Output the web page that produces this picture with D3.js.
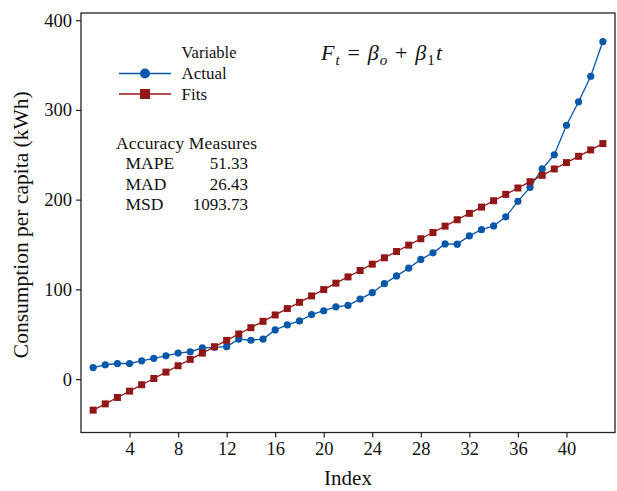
<!DOCTYPE html>
<html><head><meta charset="utf-8">
<script src="https://cdn.jsdelivr.net/npm/d3@7/dist/d3.min.js"></script>
<style>
body{margin:0;background:#fff}
text{font-family:"Liberation Serif","Times New Roman",serif;fill:#111}
</style>
</head><body>
<svg id="c" width="617" height="491"></svg>
<script>
const indexes = [1,2,3,4,5,6,7,8,9,10,11,12,13,14,15,16,17,18,19,20,21,22,23,24,25,26,27,28,29,30,31,32,33,34,35,36,37,38,39,40,41,42,43];
const actual = [12.9,16.0,17.4,17.4,20.4,23.2,26.0,29.0,30.5,34.8,35.4,36.2,44.6,43.3,44.6,54.8,60.4,64.8,71.9,76.2,80.6,82.1,89.2,96.3,106.3,115.0,123.6,133.4,140.7,150.6,150.4,159.6,166.5,170.7,180.8,198.1,213.7,234.2,250.0,282.9,309.0,337.5,376.2];
const fits = [-34.6,-27.6,-20.5,-13.4,-6.3,0.7,7.8,14.9,22.0,29.0,36.1,43.2,50.3,57.3,64.4,71.5,78.6,85.6,92.7,99.8,106.9,113.9,121.0,128.1,135.2,142.2,149.3,156.4,163.4,170.5,177.6,184.7,191.7,198.8,205.9,213.0,220.0,227.1,234.2,241.3,248.3,255.4,262.5];
const xTicks = [4,8,12,16,20,24,28,32,36,40];
const yTicks = [0,100,200,300,400];
const seriesNames = ["Actual","Fits"];
const accuracyLabels = ["MAPE","MAD","MSD"];
const accuracyValues = ["51.33","26.43","1093.73"];

const blue = "#0757ab", red = "#921717";
const svg = d3.select("#c");
const L = 81, R = 615, T = 13, B = 432.5;
const x = d3.scaleLinear().domain([0,44]).range([L,R]);
const y = d3.scaleLinear().domain([-59.5,408]).range([B,T]);

// axes
const xAxis = svg.append("g").attr("transform",`translate(0,${B})`)
  .call(d3.axisBottom(x).tickValues(xTicks).tickSize(5).tickPadding(4));
const yAxis = svg.append("g").attr("transform",`translate(${L},0)`)
  .call(d3.axisLeft(y).tickValues(yTicks).tickSize(5).tickPadding(4));
[xAxis,yAxis].forEach(g=>{
  g.select(".domain").remove();
  g.selectAll(".tick line").attr("stroke","#222").attr("stroke-width",1.2);
  g.selectAll(".tick text").attr("font-size","18.5px").attr("fill","#111")
    .attr("font-family","Liberation Serif");
});

// frame
svg.append("rect").attr("x",L).attr("y",T).attr("width",R-L).attr("height",B-T)
  .attr("fill","none").attr("stroke","#222").attr("stroke-width",1.3);

// axis titles
svg.append("text").attr("x",(L+R)/2).attr("y",485).attr("text-anchor","middle")
  .attr("font-size","21px").text("Index");
svg.append("text").attr("transform",`translate(28,${(T+B)/2+2}) rotate(-90)`)
  .attr("text-anchor","middle").attr("font-size","21.5px").text("Consumption per capita (kWh)");

// data
const line = d3.line().x((d,i)=>x(indexes[i])).y(d=>y(d));
svg.append("path").datum(actual).attr("d",line).attr("fill","none").attr("stroke",blue).attr("stroke-width",1.3);
svg.append("g").selectAll("circle").data(actual).join("circle")
  .attr("cx",(d,i)=>x(indexes[i])).attr("cy",d=>y(d)).attr("r",3.6).attr("fill",blue);
svg.append("path").datum(fits).attr("d",line).attr("fill","none").attr("stroke",red).attr("stroke-width",1.3);
const s = 7;
svg.append("g").selectAll("rect").data(fits).join("rect")
  .attr("x",(d,i)=>x(indexes[i])-s/2).attr("y",d=>y(d)-s/2).attr("width",s).attr("height",s).attr("fill",red);

// legend
svg.append("text").attr("x",181.5).attr("y",58).attr("font-size","16.5px").text("Variable");
const lg = [{c:blue,y:73.5},{c:red,y:94}];
lg.forEach((o,i)=>{
  svg.append("line").attr("x1",119).attr("x2",171).attr("y1",o.y).attr("y2",o.y).attr("stroke",o.c).attr("stroke-width",1.3);
  if(i===0) svg.append("circle").attr("cx",145).attr("cy",o.y).attr("r",5).attr("fill",o.c);
  else svg.append("rect").attr("x",140).attr("y",o.y-5).attr("width",10).attr("height",10).attr("fill",o.c);
  svg.append("text").attr("x",181.5).attr("y",o.y+5.5).attr("font-size","17px").text(seriesNames[i]);
});

// accuracy
svg.append("text").attr("x",116).attr("y",148.5).attr("font-size","17.5px")
  .attr("textLength",141).attr("lengthAdjust","spacing").text("Accuracy Measures");
accuracyLabels.forEach((l,i)=>{
  const yy = 169 + i*20.7;
  svg.append("text").attr("x",125.5).attr("y",yy).attr("font-size","17.5px").text(l);
  svg.append("text").attr("x",248).attr("y",yy).attr("text-anchor","end").attr("font-size","17px").text(accuracyValues[i]);
});

// formula
const f = svg.append("text").attr("x",321).attr("y",60).attr("font-size","22px")
  .attr("font-style","italic").attr("textLength",121).attr("lengthAdjust","spacing");
f.append("tspan").text("F");
f.append("tspan").attr("font-size","15px").attr("dy",5).text("t");
f.append("tspan").attr("dy",-5).attr("font-style","normal").text(" = ");
f.append("tspan").text("β");
f.append("tspan").attr("font-size","15px").attr("dy",5).text("o");
f.append("tspan").attr("dy",-5).attr("font-style","normal").text(" + ");
f.append("tspan").text("β");
f.append("tspan").attr("font-size","15px").attr("dy",5).attr("font-style","normal").text("1");
f.append("tspan").attr("dy",-5).text("t");
</script>
</body></html>
